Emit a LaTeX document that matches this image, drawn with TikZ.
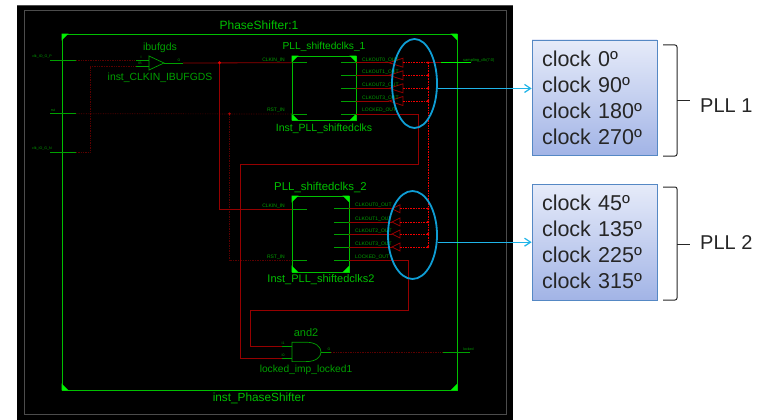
\documentclass[tikz,border=0pt]{standalone}
\usepackage{fontspec}
\setmainfont{Liberation Sans}
\usetikzlibrary{calc,shapes.geometric,arrows.meta}

\definecolor{schgreen}{HTML}{00C000}
\definecolor{markgreen}{HTML}{00F000}
\definecolor{pinggreen}{HTML}{00A000}
\definecolor{wirered}{HTML}{960000}
\definecolor{dimred}{HTML}{5A0000}
\definecolor{busred}{HTML}{F00000}
\definecolor{ringblue}{HTML}{0F9ED5}
\definecolor{arrowblue}{HTML}{1FB4E8}
\definecolor{boxtop}{HTML}{E6EBF9}
\definecolor{boxbottom}{HTML}{A2B4E6}
\definecolor{boxline}{HTML}{5588C4}

\tikzset{
  wire/.style={draw=wirered,line width=0.8pt},
  dimwire/.style={draw=dimred,line width=0.7pt,densely dotted},
  buswire/.style={draw=busred,line width=1pt,dash pattern=on 1.6pt off 1pt},
  stub/.style={draw=pinggreen,line width=0.7pt},
  pllbox/.style={draw=schgreen,line width=0.8pt,minimum width=#1,inner sep=0pt},
  title/.style={text=schgreen,inner sep=0pt},
  pinlabel/.style={text=pinggreen,font=\fontsize{5}{5}\selectfont,inner sep=0pt},
  ring/.style={ellipse,draw=ringblue,line width=1.8pt,inner sep=0pt},
  feed/.style={draw=arrowblue,line width=1.2pt,-{Straight Barb[length=6pt,width=8pt]}},
  clockbox/.style={rectangle,top color=boxtop,bottom color=boxbottom,
    draw=boxline,line width=0.8pt,minimum width=125pt,align=left,text=black!85,
    font=\fontsize{21.5}{26}\selectfont,inner sep=0pt,text width=105pt},
  brace/.style={draw=black!85,line width=1pt,rounded corners=2pt}
}

\begin{document}
\begin{tikzpicture}[x=1pt,y=-1pt]
\useasboundingbox (0,0) rectangle (768,420);

% Schematic window
\fill[black] (17,5) rectangle (513,420);
\draw[black!70,line width=0.8pt] (17,5) -- (513,5);
\draw[black!70,line width=0.8pt] (24,10) rectangle (506,414);

% Top level box with its corner marks
\node[pllbox=395pt,minimum height=356pt] (top) at (259.5,212) {};
\fill[markgreen] (top.north west) -- ++(7,0) -- ++(-7,7) -- cycle;
\fill[markgreen] (top.north east) -- ++(-7,0) -- ++(7,7) -- cycle;
\fill[markgreen] (top.south east) -- ++(-7,0) -- ++(7,-7) -- cycle;
\fill[markgreen] (top.south west) -- ++(7,0) -- ++(-7,-7) -- cycle;
\node[title,font=\fontsize{12}{12}\selectfont] (toptitle) at (259,25) {PhaseShifter:1};
\node[title,font=\fontsize{11.8}{12}\selectfont] (topinst) at (259,398) {inst\_PhaseShifter};

% The two PLL blocks
\node[pllbox=64pt,minimum height=64pt] (pllA) at (324,88) {};
\node[pllbox=57pt,minimum height=76pt] (pllB) at (320.5,234) {};
\foreach \blk in {pllA,pllB}{
  \fill[markgreen] (\blk.north west) -- ++(7,0) -- ++(-7,7) -- cycle;
  \fill[markgreen] (\blk.north east) -- ++(-7,0) -- ++(7,7) -- cycle;
  \fill[markgreen] (\blk.south east) -- ++(-7,0) -- ++(7,-7) -- cycle;
  \fill[markgreen] (\blk.south west) -- ++(7,0) -- ++(-7,-7) -- cycle;
}
\node[title,font=\fontsize{10.2}{11}\selectfont] (pllAname) at (324,47) {PLL\_shiftedclks\_1};
\node[title,font=\fontsize{10.5}{11}\selectfont] (pllAinst) at (324,129) {Inst\_PLL\_shiftedclks};
\node[title,font=\fontsize{11.4}{12}\selectfont] (pllBname) at (320.5,188) {PLL\_shiftedclks\_2};
\node[title,font=\fontsize{11}{12}\selectfont] (pllBinst) at (321,280) {Inst\_PLL\_shiftedclks2};

% Pin coordinates
\coordinate (clkP) at (76,60);
\coordinate (rstP) at (76,113.7);
\coordinate (clkN) at (76,152);
\coordinate (bufO) at (183,63);
\coordinate (clkinA) at (292,62.7);
\coordinate (rstA) at (292,114);
\coordinate (lockA) at (356,114);
\coordinate (clkinB) at (292,209);
\coordinate (rstB) at (292,260);
\coordinate (lockB) at (349,260);
\coordinate (andA) at (282,346);
\coordinate (andB) at (282,358);
\coordinate (andO) at (331,352);
\coordinate (lockport) at (443,352);
\coordinate (clkjoin) at (219.5,62.7);
\coordinate (rstjoin) at (229.5,113.7);
\coordinate (bustop) at (428,62.7);
\coordinate (busend) at (428,247);
\coordinate (busport) at (441,62.7);

% Wires
\draw[dimwire] (clkP) -- (136,60);
\draw[dimwire] (clkN) -- (90,152) -- (90,66) -- (136,66);
\draw[dimwire] (rstP) -- (rstA);
\draw[dimwire] (rstjoin) -- (rstjoin |- rstB) -- (rstB);
\draw[wire] (bufO) -- (clkinA);
\draw[wire] (clkjoin) -- (clkjoin |- clkinB) -- (clkinB);
\draw[wire] (lockA) -- (418.5,114) -- (418.5,164) -- (240,164) -- (240,358) -- (andB);
\draw[wire] (lockB) -- (408,260) -- (408,310) -- (250.5,310) -- (250.5,346) -- (andA);
\draw[dimwire] (andO) -- (lockport);
\draw[wire] (bustop) -- (busport);
\fill[red!90!black] (clkjoin) circle (1.6);
\fill[red!70!black] (rstjoin) circle (1.4);

% Input ports
\draw[stub] (50,60) -- (clkP);
\draw[stub] (50,113.7) -- (rstP);
\draw[stub] (50,152) -- (clkN);
\node[pinlabel,font=\fontsize{3.6}{4}\selectfont,anchor=east] (lblP) at (52,56.5) {clk\_IO\_G\_P};
\node[pinlabel,font=\fontsize{3.6}{4}\selectfont,anchor=east] (lblR) at (55,110) {rst};
\node[pinlabel,font=\fontsize{3.6}{4}\selectfont,anchor=east] (lblN) at (52,149) {clk\_IO\_G\_N};

% Input buffer
\draw[stub] (136,60) -- (149,60);
\draw[stub] (136,66) -- (149,66);
\draw[stub] (164,63) -- (bufO);
\draw[draw=pinggreen,line width=0.7pt,fill=black] (149,56) -- (149,70) -- (164,63) -- cycle;
\node[pinlabel,font=\fontsize{3.5}{4}\selectfont] (bufI) at (141,57) {I};
\node[pinlabel,font=\fontsize{3.5}{4}\selectfont] (bufIB) at (140,63) {IB};
\node[pinlabel,font=\fontsize{3.5}{4}\selectfont] (bufOl) at (179,60) {O};
\node[title,text=pinggreen,font=\fontsize{10.5}{11}\selectfont] (bufname) at (160,48) {ibufgds};
\node[title,text=pinggreen,font=\fontsize{10.4}{11}\selectfont] (bufinst) at (160,78) {inst\_CLKIN\_IBUFGDS};

% PLL stubs and pin labels
\draw[stub] (clkinA) -- (307,62.7);
\draw[stub] (rstA) -- (307,114);
\draw[stub] (341,114) -- (lockA);
\draw[stub] (clkinB) -- (307,209);
\draw[stub] (rstB) -- (307,260);
\draw[stub] (334,260) -- (lockB);
\node[pinlabel,anchor=east] (clkinAl) at (285,60) {CLKIN\_IN};
\node[pinlabel,anchor=east] (rstAl) at (285,110.5) {RST\_IN};
\node[pinlabel,anchor=west] (lockAl) at (362,110.5) {LOCKED\_OUT};
\node[pinlabel,anchor=east] (clkinBl) at (285,206) {CLKIN\_IN};
\node[pinlabel,anchor=east] (rstBl) at (285,257) {RST\_IN};
\node[pinlabel,anchor=west] (lockBl) at (355,257) {LOCKED\_OUT};

% Clock outputs of the first PLL
\foreach \n/\y in {0/62.7,1/75.3,2/88.3,3/101}{
  \draw[stub] (341,\y) -- (356,\y);
  \draw[wire] (356,\y) -- (389,\y);
  \draw[draw=wirered,line width=0.8pt] (403,\y-4.5) -- (403,\y+4.5) -- (389,\y) -- cycle;
  \draw[buswire] (403,\y) -- (428,\y);
  \fill[busred] (428,\y) circle (1.3);
  \node[pinlabel,anchor=west] (outA\n) at (362,\y-2.7) {CLKOUT\n\_OUT};
}

% Clock outputs of the second PLL
\foreach \n/\y in {0/208.7,1/222,2/234,3/247}{
  \draw[stub] (334,\y) -- (349,\y);
  \draw[wire] (349,\y) -- (392,\y);
  \draw[draw=wirered,line width=0.8pt] (400,\y-4) -- (400,\y+4) -- (392,\y) -- cycle;
  \draw[buswire] (400,\y) -- (428,\y);
  \fill[busred] (428,\y) circle (1.3);
  \node[pinlabel,anchor=west] (outB\n) at (355,\y-3) {CLKOUT\n\_OUT};
}
\draw[buswire] (bustop) -- (busend);

% Output bus
\draw[draw=markgreen,line width=1.6pt] (busport) -- (471,62.7);
\node[pinlabel,font=\fontsize{4}{4}\selectfont,anchor=west] (busl) at (463,60) {sampling\_clk(7:0)};

% AND gate
\draw[stub] (andA) -- (292,346);
\draw[stub] (andB) -- (292,358);
\draw[stub] (321,352) -- (andO);
\draw[draw=pinggreen,line width=0.7pt] (292,342.2) -- (306,342.2) .. controls (316,342.2) and (321,347) .. (321,352) .. controls (321,357) and (316,361.6) .. (306,361.6) -- (292,361.6) -- cycle;
\node[pinlabel,font=\fontsize{3.5}{4}\selectfont] (andIa) at (283,343) {I1};
\node[pinlabel,font=\fontsize{3.5}{4}\selectfont] (andIb) at (283,355) {I0};
\node[pinlabel,font=\fontsize{3.5}{4}\selectfont] (andOl) at (329,349.5) {O};
\node[title,text=pinggreen,font=\fontsize{11}{12}\selectfont] (andname) at (306,333) {and2};
\node[title,text=pinggreen,font=\fontsize{10.2}{11}\selectfont] (andinst) at (306,370) {locked\_imp\_locked1};
\draw[stub] (lockport) -- (470,352);
\node[pinlabel,font=\fontsize{3.6}{4}\selectfont,anchor=west] (lockl) at (463,349) {locked};

% Rings over the clock outputs
\node[ring,minimum width=45pt,minimum height=89pt] (ringA) at (414.5,83.5) {};
\node[ring,minimum width=49pt,minimum height=88pt] (ringB) at (412.5,235) {};

% Clock boxes
\node[clockbox,minimum height=115pt] (boxA) at (594.5,97.5) {clock 0º\\clock 90º\\clock 180º\\clock 270º};
\node[clockbox,minimum height=116pt] (boxB) at (594.5,242) {clock 45º\\clock 135º\\clock 225º\\clock 315º};

\draw[feed] (ringA.-12) -- (ringA.-12 -| boxA.west);
\draw[feed] (ringB.-16) -- (ringB.-16 -| boxB.west);

% Braces
\node[inner sep=0pt,font=\fontsize{20}{20}\selectfont,text=black!85,anchor=west] (pllone) at (700,106) {PLL 1};
\node[inner sep=0pt,font=\fontsize{20}{20}\selectfont,text=black!85,anchor=west] (plltwo) at (700,243) {PLL 2};
\draw[brace] (663,45) -- (677,45) -- (677,156) -- (663,156);
\draw[brace] (663,187) -- (677,187) -- (677,300) -- (663,300);
\draw[black!85,line width=1pt] (677,100) -- (690,100);
\draw[black!85,line width=1pt] (677,244) -- (690,244);

\end{tikzpicture}
\end{document}
